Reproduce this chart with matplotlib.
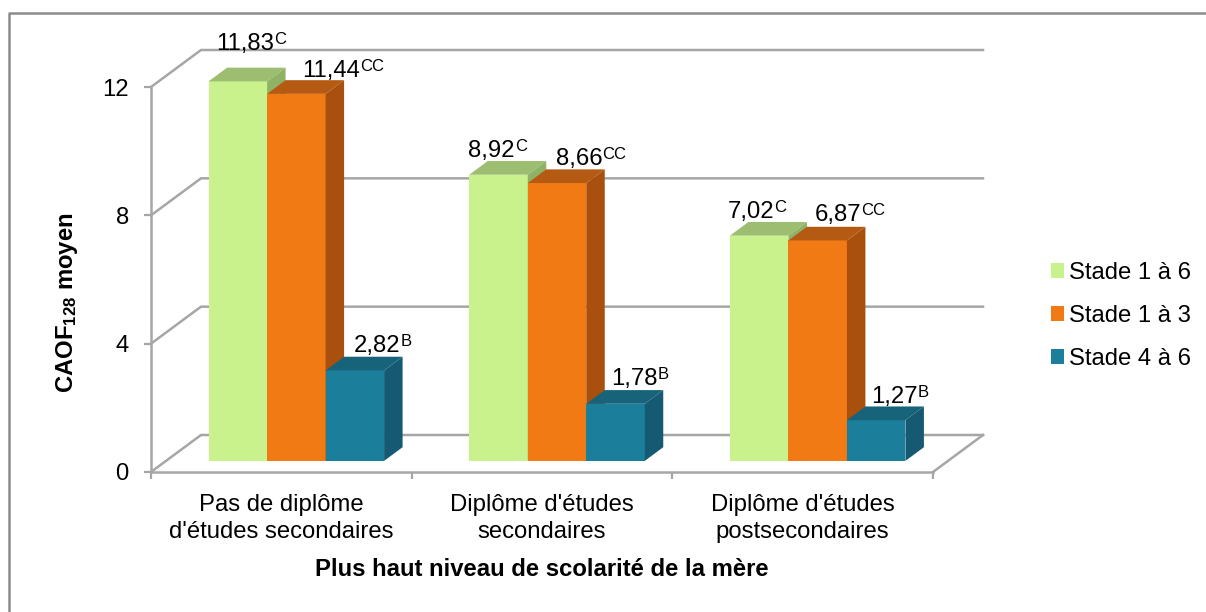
import numpy as np
import matplotlib
matplotlib.use('Agg')
import matplotlib.pyplot as plt
from matplotlib.patches import Patch, Polygon

plt.rcParams['font.family'] = 'Liberation Sans'
plt.rcParams['mathtext.fontset'] = 'custom'
plt.rcParams['mathtext.rm'] = 'Liberation Sans'
plt.rcParams['mathtext.bf'] = 'Liberation Sans:bold'

# ── DATA ──────────────────────────────────────────────────────────────────────
CATEGORIES = ["Pas de diplôme\nd'études secondaires",
              "Diplôme d'études\nsecondaires",
              "Diplôme d'études\npostsecondaires"]
SERIES = ["Stade 1 à 6", "Stade 1 à 3", "Stade 4 à 6"]
STADE_1_6 = [11.83, 8.92, 7.02]
STADE_1_3 = [11.44, 8.66, 6.87]
STADE_4_6 = [2.82, 1.78, 1.27]
MARKS = ["C", "CC", "B"]
Y_TICKS = [0, 4, 8, 12]

# ── STYLE ─────────────────────────────────────────────────────────────────────
W, H = 1206, 612
AX_L, AX_R, AX_T, AX_B = 151, 933, 87, 472   # axes box in pixels
GRID = '#A6A6A6'
FRONT = ['#C9F28C', '#F27A14', '#1B7F9C']
TOP = ['#9DBE70', '#B55A12', '#176379']
SIDE = ['#8FB266', '#A9500F', '#155A72']
FONT = 17.2

DEPTH_X = 50 / ((AX_R - AX_L) / 3)           # wall depth, category units
DEPTH_Y = 37 / ((AX_B - AX_T) / 12)          # wall depth, value units
BAR_W = 58.5 / ((AX_R - AX_L) / 3)
BAR_START, BAR_END = 0.30, 0.67              # bar depth, share of wall depth

# label shift from the bar's front top left corner, pixels
LABEL_DX = [[8, -1, -2], [35, 28, 26], [28, 25, 24]]
LABEL_DY = [[31, 18, 18], [17, 18, 19], [18, 19, 17]]


def draw_bar(ax, x, value, i):
    base = BAR_START * DEPTH_Y
    ox = (BAR_END - BAR_START) * DEPTH_X
    oy = (BAR_END - BAR_START) * DEPTH_Y
    top = base + value
    ax.bar(x, value, BAR_W, bottom=base, align='edge', color=FRONT[i],
           linewidth=0, zorder=3, clip_on=False)
    ax.add_patch(Polygon([(x, top), (x + BAR_W, top),
                          (x + BAR_W + ox, top + oy), (x + ox, top + oy)],
                         closed=True, fc=TOP[i], lw=0, zorder=3, clip_on=False))
    ax.add_patch(Polygon([(x + BAR_W, base), (x + BAR_W + ox, base + oy),
                          (x + BAR_W + ox, top + oy), (x + BAR_W, top)],
                         closed=True, fc=SIDE[i], lw=0, zorder=3, clip_on=False))


fig = plt.figure(figsize=(W / 100, H / 100), dpi=100)
ax = fig.add_axes([AX_L / W, 1 - AX_B / H, (AX_R - AX_L) / W, (AX_B - AX_T) / H])
ax.set_xlim(0, 3)
ax.set_ylim(0, 12)
ax.patch.set_visible(False)

# outer frame, only the top and left edges are in the picture
fig.add_artist(plt.Line2D([9 / W, 9 / W, 1], [0, 1 - 12.7 / H, 1 - 12.7 / H],
                          color='#8C8C8C', lw=1.8, transform=fig.transFigure))

# walls and floor
for y in Y_TICKS:
    ax.plot([0, DEPTH_X, 3 + DEPTH_X], [y, y + DEPTH_Y, y + DEPTH_Y], color=GRID,
            lw=1.8, zorder=1, clip_on=False)
ax.plot([3, 3 + DEPTH_X], [0, DEPTH_Y], color=GRID, lw=1.8, zorder=1, clip_on=False)

# bars, drawn left to right so nearer faces overlap
groups = [STADE_1_6, STADE_1_3, STADE_4_6]
for c in range(len(CATEGORIES)):
    start = c + 0.5 + BAR_START * DEPTH_X - 1.5 * BAR_W
    for i, values in enumerate(groups):
        x = start + i * BAR_W
        draw_bar(ax, x, values[c], i)
        label = f"{values[c]:.2f}".replace('.', ',')
        txt = ax.annotate(label, (x, BAR_START * DEPTH_Y + values[c]),
                          xytext=(LABEL_DX[i][c], LABEL_DY[i][c]), textcoords='offset pixels',
                          ha='left', va='baseline', fontsize=FONT, color='black', zorder=5,
                          annotation_clip=False)
        ax.annotate(MARKS[i], (1, 0), xycoords=txt, xytext=(0, 11),
                    textcoords='offset pixels', ha='left', va='baseline', fontsize=12,
                    color='black', zorder=5, annotation_clip=False)

# axes
for side in ['top', 'right']:
    ax.spines[side].set_visible(False)
for side in ['left', 'bottom']:
    ax.spines[side].set_color(GRID)
    ax.spines[side].set_linewidth(1.8)
ax.set_yticks(Y_TICKS)
ax.set_xticks(range(4))
ax.set_xticklabels([])
ax.set_xticks(np.arange(len(CATEGORIES)) + 0.5, CATEGORIES, minor=True, linespacing=1.3)
ax.tick_params(axis='both', which='major', color=GRID, width=1.6, length=5, labelsize=FONT)
ax.tick_params(axis='x', which='minor', length=0, labelsize=FONT, pad=15.5)
ax.tick_params(axis='y', pad=11)

fig.text(542 / W, 1 - 569 / H, "Plus haut niveau de scolarité de la mère", ha='center',
         va='center', fontsize=FONT, fontweight='bold')
fig.text(67 / W, 1 - 303 / H, r"$\mathbf{CAOF_{128}}$ moyen", ha='center', va='center',
         rotation=90, fontsize=FONT, fontweight='bold')

handles = [Patch(facecolor=FRONT[i], label=SERIES[i]) for i in range(3)]
fig.legend(handles=handles, loc='center left', bbox_to_anchor=(1051 / W, 1 - 316 / H),
           frameon=False, fontsize=FONT, handlelength=0.54, handleheight=0.54,
           handletextpad=0.22, labelspacing=0.88, borderpad=0, borderaxespad=0)

fig.savefig('out.png', dpi=100)
